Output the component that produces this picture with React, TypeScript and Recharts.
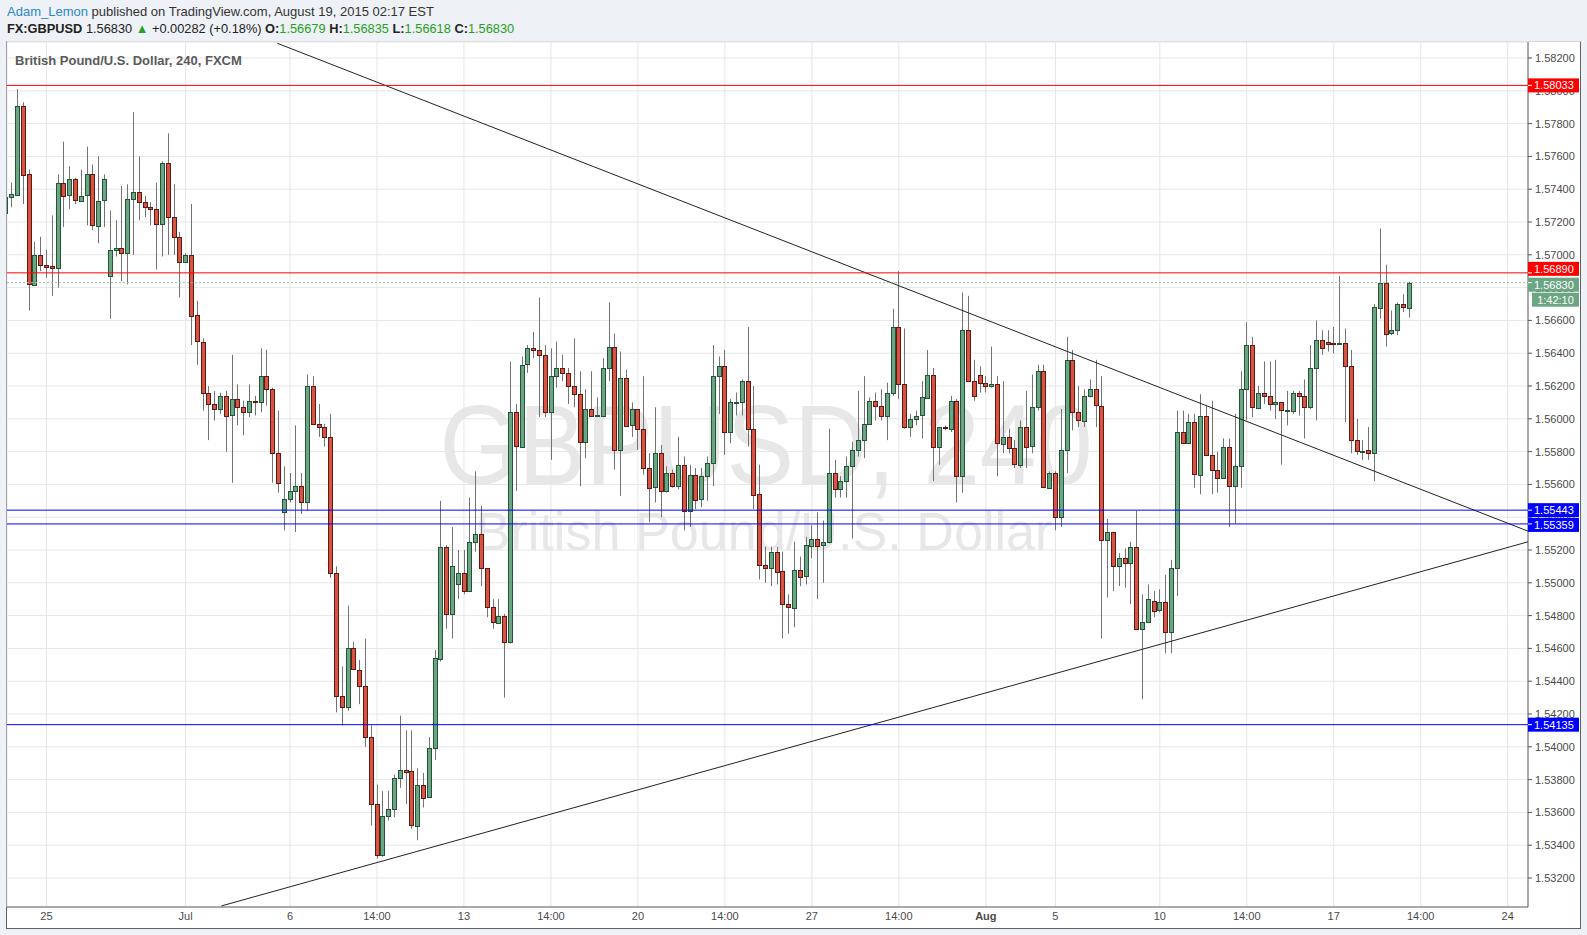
import React from 'react';
import { ComposedChart, Bar, XAxis, YAxis, CartesianGrid, ReferenceLine } from 'recharts';

const FONT = '"Liberation Sans", Arial, sans-serif';

// 4h candles, GBP/USD, left to right
const opens = [
  1.5725, 1.5735, 1.5737, 1.5791, 1.5749, 1.5682, 1.5700, 1.5694, 1.5693, 1.5692,
  1.5744, 1.5736, 1.5746, 1.5733, 1.5736, 1.5749, 1.5718, 1.5733, 1.5687, 1.5703,
  1.5704, 1.5701, 1.5734, 1.5738, 1.5732, 1.5729, 1.5728, 1.5719, 1.5756, 1.5723,
  1.5711, 1.5696, 1.5700, 1.5663, 1.5647, 1.5616, 1.5609, 1.5606, 1.5614, 1.5602,
  1.5612, 1.5607, 1.5604, 1.5611, 1.5610, 1.5626, 1.5618, 1.5579, 1.5543, 1.5551,
  1.5556, 1.5559, 1.5549, 1.5620, 1.5597, 1.5595, 1.5589, 1.5506, 1.5431, 1.5424,
  1.5460, 1.5447, 1.5437, 1.5406, 1.5365, 1.5334, 1.5358, 1.5362, 1.5381, 1.5386,
  1.5385, 1.5352, 1.5377, 1.5369, 1.5399, 1.5454, 1.5522, 1.5481, 1.5499, 1.5506,
  1.5495, 1.5525, 1.5530, 1.5509, 1.5485, 1.5476, 1.5480, 1.5464, 1.5604, 1.5583,
  1.5633, 1.5643, 1.5642, 1.5639, 1.5604, 1.5626, 1.5631, 1.5628, 1.5620, 1.5615,
  1.5586, 1.5606, 1.5602, 1.5602, 1.5631, 1.5644, 1.5581, 1.5625, 1.5596, 1.5606,
  1.5594, 1.5570, 1.5558, 1.5579, 1.5556, 1.5567, 1.5559, 1.5572, 1.5544, 1.5566,
  1.5551, 1.5565, 1.5573, 1.5626, 1.5632, 1.5592, 1.5610, 1.5610, 1.5623, 1.5594,
  1.5554, 1.5511, 1.5509, 1.5519, 1.5507, 1.5487, 1.5485, 1.5508, 1.5504, 1.5523,
  1.5527, 1.5523, 1.5525, 1.5567, 1.5557, 1.5562, 1.5571, 1.5581, 1.5587, 1.5597,
  1.5611, 1.5608, 1.5602, 1.5616, 1.5656, 1.5621, 1.5595, 1.5600, 1.5602, 1.5613,
  1.5627, 1.5583, 1.5595, 1.5594, 1.5611, 1.5565, 1.5654, 1.5623, 1.5627, 1.5622,
  1.5620, 1.5621, 1.5585, 1.5589, 1.5582, 1.5572, 1.5595, 1.5583, 1.5607, 1.5629,
  1.5558, 1.5567, 1.5540, 1.5581, 1.5636, 1.5604, 1.5599, 1.5614, 1.5618, 1.5608,
  1.5526, 1.5531, 1.5510, 1.5515, 1.5512, 1.5522, 1.5472, 1.5476, 1.5489, 1.5483,
  1.5488, 1.5470, 1.5509, 1.5592, 1.5585, 1.5598, 1.5566, 1.5602, 1.5578, 1.5569,
  1.5564, 1.5583, 1.5559, 1.5571, 1.5618, 1.5645, 1.5607, 1.5616, 1.5614, 1.5609,
  1.5610, 1.5605, 1.5605, 1.5616, 1.5614, 1.5607, 1.5631, 1.5648, 1.5647, 1.56464,
  1.56458, 1.5646, 1.5632, 1.5587, 1.5580, 1.5581, 1.5579, 1.5668, 1.5683, 1.5652,
  1.5654, 1.5670, 1.56679,
];

const highs = [
  1.5737, 1.5744, 1.5801, 1.5793, 1.5752, 1.5708, 1.5711, 1.5703, 1.5724, 1.5749,
  1.5769, 1.5754, 1.5747, 1.5752, 1.5766, 1.5755, 1.5760, 1.5749, 1.5727, 1.5721,
  1.5742, 1.5743, 1.5787, 1.5760, 1.5736, 1.5732, 1.5744, 1.5757, 1.5774, 1.5743,
  1.5714, 1.5701, 1.5731, 1.5672, 1.5649, 1.5620, 1.5617, 1.5616, 1.5617, 1.5639,
  1.5621, 1.5611, 1.5621, 1.5614, 1.5643, 1.5642, 1.5619, 1.5605, 1.5571, 1.5567,
  1.5596, 1.5567, 1.5627, 1.5626, 1.5609, 1.5597, 1.5603, 1.5510, 1.5449, 1.5486,
  1.5464, 1.5453, 1.5466, 1.5413, 1.5377, 1.5373, 1.5373, 1.5383, 1.5419, 1.5410,
  1.5410, 1.5387, 1.5384, 1.5406, 1.5459, 1.5550, 1.5523, 1.5534, 1.5520, 1.5520,
  1.5552, 1.5568, 1.5547, 1.5509, 1.5490, 1.5490, 1.5481, 1.5635, 1.5609, 1.5638,
  1.5645, 1.5653, 1.5674, 1.5645, 1.5643, 1.5647, 1.5639, 1.5631, 1.5649, 1.5629,
  1.5618, 1.5629, 1.5613, 1.5637, 1.5671, 1.5652, 1.5641, 1.5630, 1.5610, 1.5606,
  1.5626, 1.5579, 1.5607, 1.5584, 1.5571, 1.5569, 1.5589, 1.5577, 1.5572, 1.5570,
  1.5570, 1.5577, 1.5645, 1.5638, 1.5642, 1.5612, 1.5616, 1.5624, 1.5656, 1.5620,
  1.5572, 1.5522, 1.5522, 1.5522, 1.5519, 1.5493, 1.5525, 1.5516, 1.5528, 1.5535,
  1.5543, 1.5538, 1.5594, 1.5575, 1.5565, 1.5577, 1.5586, 1.5617, 1.5626, 1.5613,
  1.5616, 1.5618, 1.5622, 1.5667, 1.5690, 1.5655, 1.5603, 1.5605, 1.5623, 1.5642,
  1.5631, 1.5595, 1.5596, 1.5614, 1.5612, 1.5677, 1.5675, 1.5636, 1.5632, 1.5626,
  1.5644, 1.5626, 1.5623, 1.5594, 1.5587, 1.5599, 1.5617, 1.5627, 1.5633, 1.5633,
  1.5568, 1.5568, 1.5606, 1.5650, 1.5642, 1.5620, 1.5618, 1.5624, 1.5636, 1.5626,
  1.5539, 1.5531, 1.5518, 1.5521, 1.5525, 1.5544, 1.5493, 1.5499, 1.5495, 1.5496,
  1.5505, 1.5514, 1.5605, 1.5605, 1.5603, 1.5603, 1.5615, 1.5608, 1.5611, 1.5580,
  1.5588, 1.5588, 1.5603, 1.5629, 1.5659, 1.5650, 1.5620, 1.5635, 1.5635, 1.5636,
  1.5610, 1.5617, 1.5617, 1.5617, 1.5624, 1.5645, 1.5660, 1.5654, 1.5654, 1.5656,
  1.5687, 1.5655, 1.5642, 1.5600, 1.5587, 1.5595, 1.5670, 1.5716, 1.5694, 1.5666,
  1.5671, 1.5676, 1.56835,
];

const lows = [
  1.5720, 1.5729, 1.5736, 1.5731, 1.5666, 1.5681, 1.5690, 1.5686, 1.5675, 1.5680,
  1.5717, 1.5728, 1.5731, 1.5733, 1.5718, 1.5715, 1.5707, 1.5717, 1.5661, 1.5699,
  1.5684, 1.5682, 1.5700, 1.5721, 1.5723, 1.5718, 1.5691, 1.5699, 1.5700, 1.5700,
  1.5674, 1.5695, 1.5645, 1.5633, 1.5605, 1.5587, 1.5599, 1.5603, 1.5580, 1.5561,
  1.5596, 1.5590, 1.5601, 1.5602, 1.5604, 1.5608, 1.5561, 1.5555, 1.5532, 1.5549,
  1.5531, 1.5542, 1.5544, 1.5596, 1.5589, 1.5583, 1.5503, 1.5421, 1.5413, 1.5422,
  1.5447, 1.5426, 1.5400, 1.5352, 1.5332, 1.5333, 1.5355, 1.5357, 1.5375, 1.5365,
  1.5350, 1.5343, 1.5363, 1.5369, 1.5392, 1.5452, 1.5472, 1.5466, 1.5490, 1.5493,
  1.5495, 1.5519, 1.5498, 1.5479, 1.5472, 1.5475, 1.5430, 1.5463, 1.5556, 1.5583,
  1.5628, 1.5637, 1.5601, 1.5601, 1.5575, 1.5619, 1.5623, 1.5609, 1.5607, 1.5559,
  1.5576, 1.5602, 1.5601, 1.5601, 1.5623, 1.5569, 1.5553, 1.5596, 1.5589, 1.5581,
  1.5566, 1.5537, 1.5549, 1.5540, 1.5555, 1.5558, 1.5557, 1.5532, 1.5534, 1.5545,
  1.5546, 1.5550, 1.5559, 1.5603, 1.5578, 1.5585, 1.5602, 1.5602, 1.5583, 1.5545,
  1.5502, 1.5500, 1.5498, 1.5499, 1.5466, 1.5469, 1.5473, 1.5498, 1.5499, 1.5515,
  1.5490, 1.5500, 1.5524, 1.5552, 1.5552, 1.5552, 1.5527, 1.5577, 1.5576, 1.5597,
  1.5599, 1.5599, 1.5587, 1.5614, 1.5612, 1.5594, 1.5589, 1.5596, 1.5588, 1.5613,
  1.5562, 1.5572, 1.5593, 1.5592, 1.5549, 1.5555, 1.5623, 1.5611, 1.5616, 1.5616,
  1.5619, 1.5565, 1.5579, 1.5579, 1.5570, 1.5570, 1.5570, 1.5579, 1.5605, 1.5558,
  1.5558, 1.5532, 1.5534, 1.5567, 1.5593, 1.5595, 1.5595, 1.5613, 1.5595, 1.5466,
  1.5491, 1.5495, 1.5498, 1.5497, 1.5487, 1.5472, 1.5429, 1.5476, 1.5479, 1.5482,
  1.5457, 1.5457, 1.5492, 1.5585, 1.5585, 1.5558, 1.5554, 1.5578, 1.5554, 1.5555,
  1.5564, 1.5534, 1.5536, 1.5558, 1.5599, 1.5601, 1.5607, 1.5609, 1.5605, 1.5600,
  1.5572, 1.5596, 1.5603, 1.5602, 1.5588, 1.5606, 1.5599, 1.5639, 1.5641, 1.5640,
  1.5645, 1.5598, 1.5579, 1.5578, 1.5575, 1.5575, 1.5562, 1.5661, 1.5644, 1.5651,
  1.5651, 1.5665, 1.56618,
];

const closes = [
  1.5735, 1.5737, 1.5791, 1.5749, 1.5682, 1.5700, 1.5694, 1.5693, 1.5692, 1.5744,
  1.5736, 1.5746, 1.5733, 1.5736, 1.5749, 1.5718, 1.5733, 1.5746, 1.5703, 1.5704,
  1.5701, 1.5734, 1.5738, 1.5732, 1.5729, 1.5728, 1.5719, 1.5756, 1.5723, 1.5711,
  1.5696, 1.5700, 1.5663, 1.5647, 1.5616, 1.5609, 1.5606, 1.5614, 1.5602, 1.5612,
  1.5607, 1.5604, 1.5611, 1.56104, 1.5626, 1.5618, 1.5579, 1.5561, 1.5551, 1.5556,
  1.5559, 1.5549, 1.5620, 1.5597, 1.5595, 1.5589, 1.5506, 1.5431, 1.5424, 1.5460,
  1.5447, 1.5437, 1.5406, 1.5365, 1.5334, 1.5358, 1.5362, 1.5381, 1.5386, 1.5385,
  1.5352, 1.5377, 1.5369, 1.5399, 1.5454, 1.5522, 1.5481, 1.5510, 1.5506, 1.5495,
  1.5525, 1.5530, 1.5509, 1.5485, 1.5476, 1.5480, 1.5464, 1.5604, 1.5583, 1.5633,
  1.5643, 1.5642, 1.5639, 1.5604, 1.5626, 1.5631, 1.5628, 1.5620, 1.5615, 1.5586,
  1.5606, 1.5602, 1.56024, 1.5631, 1.5644, 1.5581, 1.5625, 1.5596, 1.5606, 1.5594,
  1.5570, 1.5558, 1.5579, 1.5556, 1.5567, 1.5559, 1.5572, 1.5544, 1.5566, 1.5551,
  1.5565, 1.5573, 1.5626, 1.5632, 1.5592, 1.5610, 1.56104, 1.5623, 1.5594, 1.5554,
  1.5511, 1.5509, 1.5519, 1.5507, 1.5487, 1.5485, 1.5508, 1.5504, 1.5523, 1.5527,
  1.5523, 1.5525, 1.5567, 1.5557, 1.5562, 1.5571, 1.5581, 1.5587, 1.5597, 1.5611,
  1.5608, 1.5602, 1.5616, 1.5656, 1.5621, 1.5595, 1.5600, 1.5602, 1.5613, 1.5627,
  1.5583, 1.5595, 1.55946, 1.5611, 1.5565, 1.5654, 1.5623, 1.5614, 1.5622, 1.5620,
  1.5621, 1.5585, 1.5589, 1.5582, 1.5572, 1.5595, 1.5583, 1.5607, 1.5629, 1.5558,
  1.5567, 1.5540, 1.5581, 1.5636, 1.5604, 1.5599, 1.5614, 1.5618, 1.5608, 1.5526,
  1.5531, 1.5510, 1.5515, 1.5512, 1.5522, 1.5472, 1.5476, 1.5490, 1.5483, 1.5488,
  1.5470, 1.5509, 1.5592, 1.5585, 1.5598, 1.5566, 1.5602, 1.5578, 1.5569, 1.5564,
  1.5583, 1.5559, 1.5571, 1.5618, 1.5645, 1.5607, 1.5616, 1.5614, 1.5609, 1.5610,
  1.5605, 1.56052, 1.5616, 1.5614, 1.5607, 1.5631, 1.5648, 1.5643, 1.5646, 1.56458,
  1.5646, 1.5632, 1.5587, 1.5580, 1.55805, 1.5579, 1.5668, 1.5683, 1.5652, 1.5654,
  1.5670, 1.5668, 1.5683,
];

// x axis: candle index where each date label sits
const xTickIndex = [7, 31, 49, 64, 79, 94, 109, 124, 139, 154, 169, 181, 199, 214, 229, 244, 259];
const xTickLabels = ['25', 'Jul', '6', '14:00', '13', '14:00', '20', '14:00', '27', '14:00', 'Aug', '5', '10', '14:00', '17', '14:00', '24'];

const priceTicks = [
  1.532, 1.534, 1.536, 1.538, 1.54, 1.542, 1.544, 1.546, 1.548, 1.55, 1.552, 1.554, 1.556,
  1.558, 1.56, 1.562, 1.564, 1.566, 1.568, 1.57, 1.572, 1.574, 1.576, 1.578, 1.58, 1.582,
];

// horizontal levels drawn on the chart
const levelPrices = [1.58033, 1.5689, 1.55443, 1.55359, 1.54135];
const levelColors = ['#ff0000', '#ff0000', '#0000ff', '#0000ff', '#0000ff'];
const levelShift = [0, -4, 0, 1, 0];

const lastPrice = 1.5683;
const countdown = '1:42:10';

// trend lines (candle index, price)
const trendDown = [{ x: 46.8, y: 1.5829 }, { x: 262.5, y: 1.55315 }];
const trendUp = [{ x: 37.2, y: 1.5303 }, { x: 262.5, y: 1.5525 }];

const X_DOMAIN = [0.2, 262.5];
const Y_DOMAIN = [1.530232, 1.582976];

const data = opens.map((o, i) => ({
  i,
  o,
  h: highs[i],
  l: lows[i],
  c: closes[i],
  range: [lows[i], highs[i]],
}));

const renderCandle = (props: any) => {
  const { x, y, width, height, payload } = props;
  if (!payload) return <g />;
  const { o, h, l, c } = payload;
  const cx = Math.round(x + width / 2);
  const k = h === l ? 0 : height / (h - l);
  const yO = y + (h - o) * k;
  const yC = y + (h - c) * k;
  const up = c >= o;
  const top = Math.round(Math.min(yO, yC)) + 0.5;
  const bh = Math.max(Math.round(Math.abs(yO - yC)), 1);
  return (
    <g>
      <line x1={cx + 0.5} x2={cx + 0.5} y1={y} y2={y + height} stroke="#737375" strokeWidth={1} />
      <rect
        x={cx - 1.5}
        y={top}
        width={4}
        height={bh}
        fill={up ? '#6ba583' : '#d75442'}
        stroke={up ? '#225437' : '#5b1a13'}
        strokeWidth={1}
      />
    </g>
  );
};

const LevelTag = ({ viewBox, text, fill, shift }: any) => {
  if (!viewBox) return null;
  const x = viewBox.x + viewBox.width;
  const y = viewBox.y + shift;
  return (
    <g>
      <rect x={x} y={y - 7} width={51} height={14} fill={fill} />
      <line x1={x} x2={x + 4} y1={viewBox.y} y2={viewBox.y} stroke="#fff" strokeWidth={1} />
      <text x={x + 6} y={y + 4} fill="#fff" fontSize={11} fontFamily={FONT}>{text}</text>
    </g>
  );
};

const PriceTag = ({ viewBox }: any) => {
  if (!viewBox) return null;
  const x = viewBox.x + viewBox.width;
  const y = viewBox.y + 2;
  return (
    <g>
      <rect x={x} y={y - 7} width={51} height={14} fill="#6ba583" />
      <line x1={x} x2={x + 4} y1={viewBox.y} y2={viewBox.y} stroke="#fff" strokeWidth={1} />
      <text x={x + 6} y={y + 4} fill="#fff" fontSize={11} fontFamily={FONT}>{lastPrice.toFixed(5)}</text>
      <rect x={x + 4} y={y + 8} width={47} height={14} fill="#6ba583" />
      <text x={x + 27.5} y={y + 19} fill="#fff" fontSize={11} textAnchor="middle" fontFamily={FONT}>{countdown}</text>
    </g>
  );
};

const XTick = (props: any) => {
  const { x, y, payload } = props;
  const label = xTickLabels[xTickIndex.indexOf(payload.value)];
  return (
    <text x={x} y={y + 13} textAnchor="middle" fontSize={11} fill="#4a4a4a" fontFamily={FONT} fontWeight={label === 'Aug' ? 700 : 400}>
      {label}
    </text>
  );
};

const YTick = (props: any) => {
  const { x, y, payload } = props;
  return (
    <text x={x} y={y + 4} textAnchor="start" fontSize={11} fill="#4a4a4a" fontFamily={FONT}>
      {Number(payload.value).toFixed(5)}
    </text>
  );
};

const green = '#26a026';

export default function App() {
  return (
    <div style={{ position: 'absolute', left: 0, top: 0, width: 1587, height: 935, background: '#eef1f5', fontFamily: FONT, overflow: 'hidden' }}>
      <div style={{ position: 'absolute', left: 7, top: 4, fontSize: 13, color: '#333', whiteSpace: 'nowrap' }}>
        <span style={{ color: '#2a88cc' }}>Adam_Lemon</span> published on TradingView.com, August 19, 2015 02:17 EST
      </div>
      <div style={{ position: 'absolute', left: 7, top: 21, fontSize: 12.8, color: '#222', whiteSpace: 'nowrap' }}>
        <b>FX:GBPUSD</b> 1.56830 <span style={{ color: green }}>▲</span> +0.00282 (+0.18%){' '}
        <b>O:</b><span style={{ color: green }}>1.56679</span>{' '}
        <b>H:</b><span style={{ color: green }}>1.56835</span>{' '}
        <b>L:</b><span style={{ color: green }}>1.56618</span>{' '}
        <b>C:</b><span style={{ color: green }}>1.56830</span>
      </div>

      <div
        style={{
          position: 'absolute', left: 6, top: 41, width: 1575, height: 888, boxSizing: 'border-box',
          background: '#fff', borderLeft: '1px solid #5e6168', borderRight: '1px solid #5e6168',
          borderBottom: '1px solid #5e6168', borderTop: '1px solid #d4d8de',
        }}
      />

      <svg width={1587} height={935} style={{ position: 'absolute', left: 0, top: 0 }}>
        <text x={766} y={484} fontSize={113} textAnchor="middle" fill="#e7e7e7" fontFamily={FONT} textLength={653} lengthAdjust="spacingAndGlyphs">
          GBPUSD, 240
        </text>
        <text x={764} y={550} fontSize={54} textAnchor="middle" fill="#e7e7e7" fontFamily={FONT} textLength={577} lengthAdjust="spacingAndGlyphs">
          British Pound/U.S. Dollar
        </text>
      </svg>

      {/* candles, grid and axes */}
      <div style={{ position: 'absolute', left: 0, top: 0 }}>
        <ComposedChart width={1587} height={935} data={data} margin={{ top: 42, right: 7, bottom: 7, left: 7 }}>
          <CartesianGrid stroke="#e6e6e6" />
          <XAxis
            dataKey="i"
            type="number"
            domain={X_DOMAIN}
            allowDataOverflow
            ticks={xTickIndex}
            interval={0}
            height={21}
            tickSize={0}
            tickMargin={0}
            tickLine={false}
            axisLine={{ stroke: '#5e6168' }}
            tick={<XTick />}
          />
          <YAxis
            orientation="right"
            type="number"
            domain={Y_DOMAIN}
            allowDataOverflow
            ticks={priceTicks}
            interval={0}
            width={52}
            tickSize={4}
            tickMargin={3}
            tickLine={{ stroke: '#555' }}
            axisLine={{ stroke: '#5e6168' }}
            tick={<YTick />}
          />
          <Bar dataKey="range" shape={renderCandle} barSize={5} isAnimationActive={false} />
        </ComposedChart>
      </div>

      {/* drawings and price tags on top, same scales */}
      <div style={{ position: 'absolute', left: 0, top: 0 }}>
        <ComposedChart width={1587} height={935} data={data} margin={{ top: 42, right: 59, bottom: 28, left: 7 }}>
          <XAxis dataKey="i" type="number" domain={X_DOMAIN} allowDataOverflow hide />
          <YAxis type="number" domain={Y_DOMAIN} allowDataOverflow hide />
          <ReferenceLine segment={trendDown} stroke="#222" strokeWidth={1} ifOverflow="visible" />
          <ReferenceLine segment={trendUp} stroke="#222" strokeWidth={1} ifOverflow="visible" />
          <ReferenceLine
            y={lastPrice}
            stroke="#8cc1a3"
            strokeDasharray="2 2"
            label={(p: any) => <PriceTag viewBox={p.viewBox} />}
          />
          {levelPrices.map((p, k) => (
            <ReferenceLine
              key={p}
              y={p}
              stroke={levelColors[k]}
              strokeWidth={1}
              label={(lp: any) => (
                <LevelTag viewBox={lp.viewBox} text={p.toFixed(5)} fill={levelColors[k]} shift={levelShift[k]} />
              )}
            />
          ))}
        </ComposedChart>
      </div>

      <div style={{ position: 'absolute', left: 15, top: 53, fontSize: 13, fontWeight: 700, color: '#5a5a5a', whiteSpace: 'nowrap' }}>
        British Pound/U.S. Dollar, 240, FXCM
      </div>
    </div>
  );
}
